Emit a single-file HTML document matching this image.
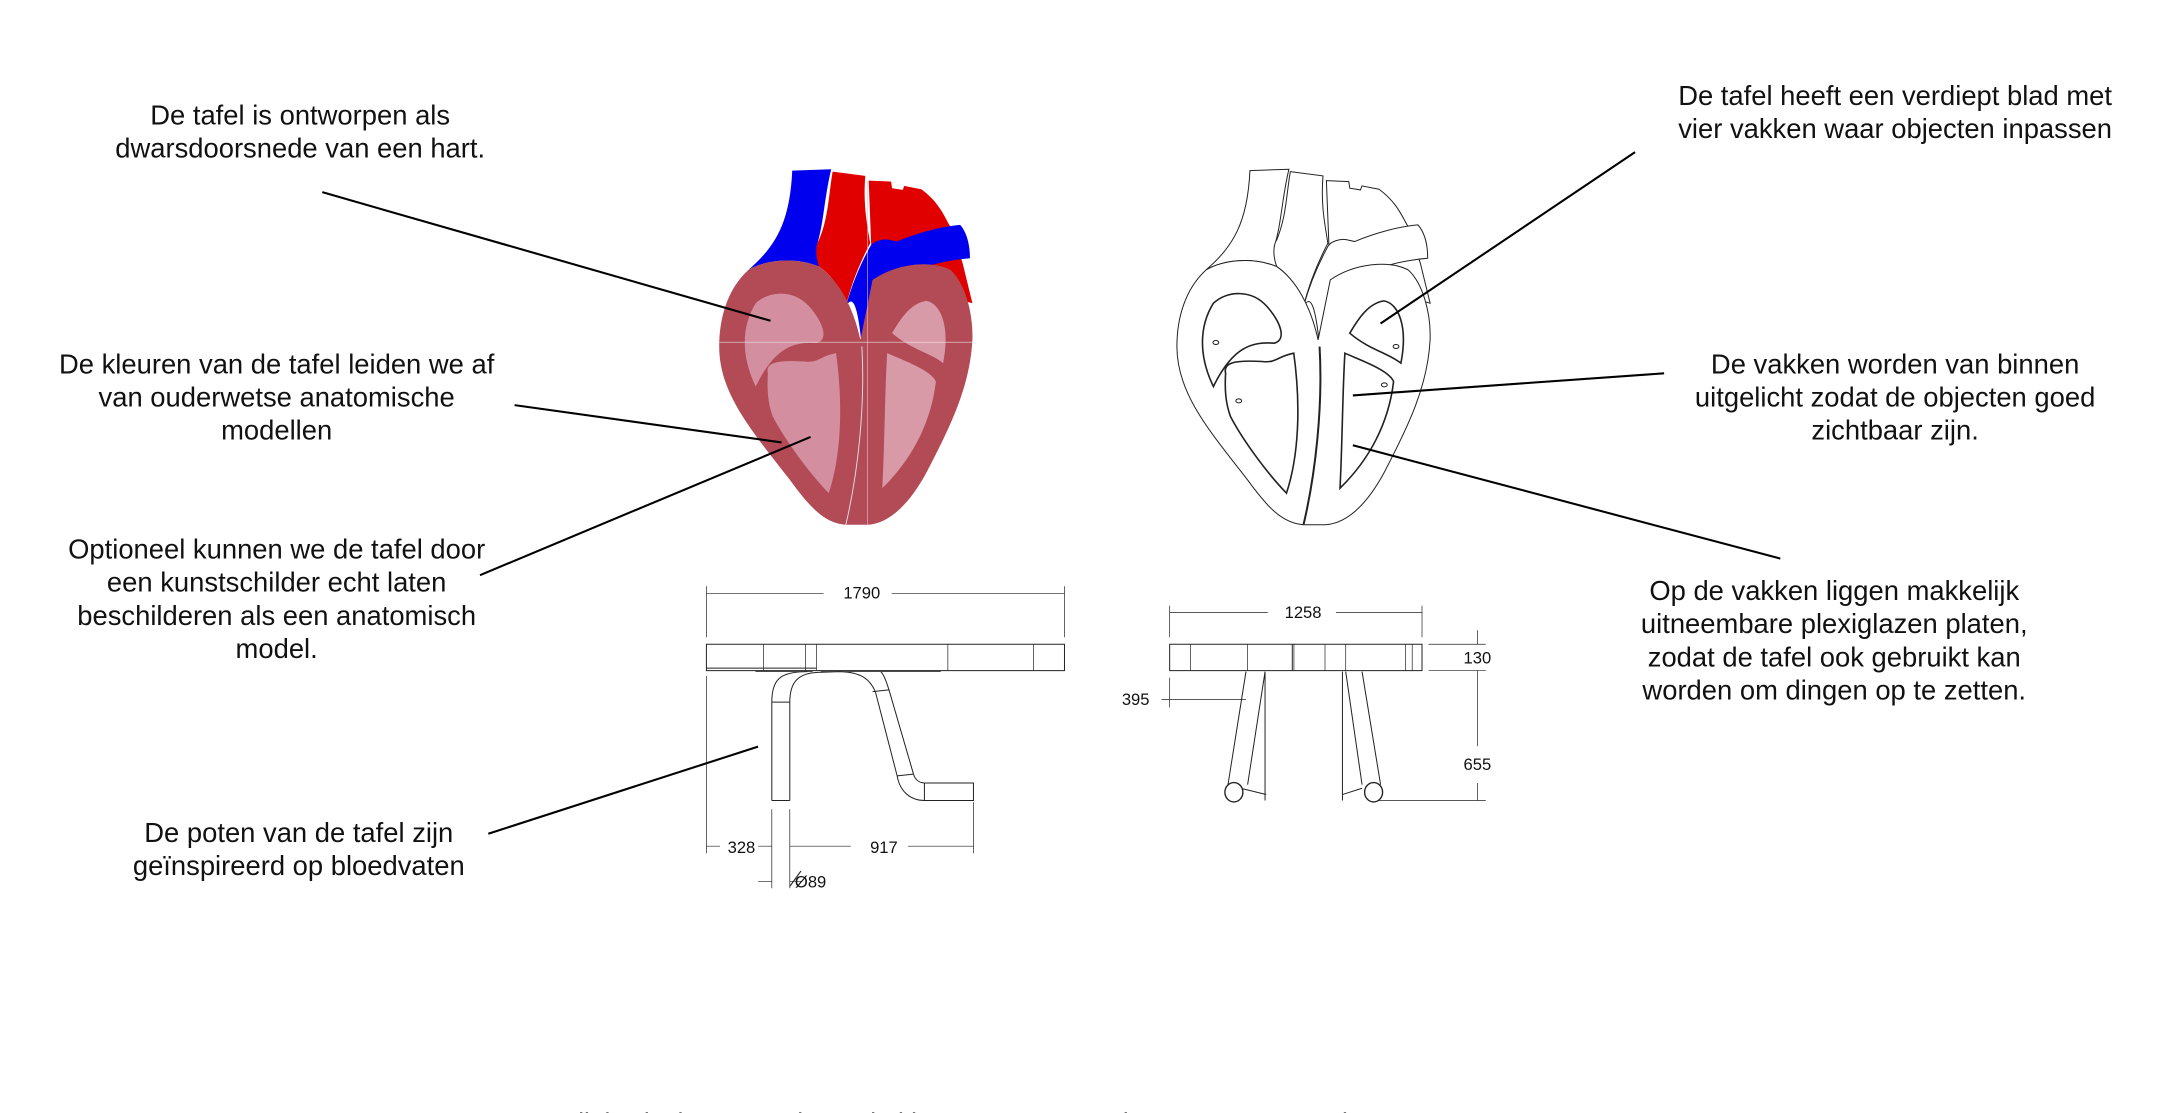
<!DOCTYPE html>
<html><head><meta charset="utf-8"><style>
html,body{margin:0;padding:0;background:#fff;width:2169px;height:1113px;overflow:hidden}
svg{display:block}
.t{font-family:"Liberation Sans",sans-serif;font-size:19.8px;fill:#111;text-anchor:middle}
.d{font-family:"Liberation Sans",sans-serif;font-size:12px;fill:#111;text-anchor:middle}
.ln{stroke:#000;stroke-width:1.5;fill:none}
.dr{fill:none;stroke:#222;stroke-width:1;vector-effect:non-scaling-stroke}
.dt{fill:none;stroke:#222;stroke-width:0.7;vector-effect:non-scaling-stroke}
.ho path,.ho circle{vector-effect:non-scaling-stroke}
</style></head><body>
<svg width="2169" height="1113" viewBox="0 0 1568 805" preserveAspectRatio="none">
<rect width="1568" height="805" fill="#fff"/>
<text class="t" x="217" y="90">De tafel is ontworpen als</text>
<text class="t" x="217" y="114">dwarsdoorsnede van een hart.</text>
<text class="t" x="200" y="270">De kleuren van de tafel leiden we af</text>
<text class="t" x="200" y="294">van ouderwetse anatomische</text>
<text class="t" x="200" y="318">modellen</text>
<text class="t" x="200" y="404">Optioneel kunnen we de tafel door</text>
<text class="t" x="200" y="428">een kunstschilder echt laten</text>
<text class="t" x="200" y="452">beschilderen als een anatomisch</text>
<text class="t" x="200" y="476">model.</text>
<text class="t" x="216" y="609">De poten van de tafel zijn</text>
<text class="t" x="216" y="633">geïnspireerd op bloedvaten</text>
<text class="t" x="1370" y="76">De tafel heeft een verdiept blad met</text>
<text class="t" x="1370" y="100">vier vakken waar objecten inpassen</text>
<text class="t" x="1370" y="270">De vakken worden van binnen</text>
<text class="t" x="1370" y="294">uitgelicht zodat de objecten goed</text>
<text class="t" x="1370" y="318">zichtbaar zijn.</text>
<text class="t" x="1326" y="434">Op de vakken liggen makkelijk</text>
<text class="t" x="1326" y="458">uitneembare plexiglazen platen,</text>
<text class="t" x="1326" y="482">zodat de tafel ook gebruikt kan</text>
<text class="t" x="1326" y="506">worden om dingen op te zetten.</text>
<text x="380" y="818" style="font-family:'Liberation Sans',sans-serif;font-size:19px;fill:#777">NB dit is slechts een schets, de kleuren en vormen kunnen nog veranderen</text>

<g transform="translate(490,101.2) scale(0.352,0.241)">
 <path fill="#e00000" d="M392 122 L438 125 L440 145 L462 150 L465 138 L500 148 C540 190 550 240 560 260 L585 370 L605 490 L580 480 C560 420 540 390 520 380 L400 420 Z"/>
 <path fill="#0000ee" d="M235 92 L315 88 C300 180 300 250 285 320 L290 380 C240 350 180 360 145 390 C200 320 230 250 235 92 Z"/>
 <path fill="#e00000" d="M318 95 L385 108 C380 200 390 260 395 310 C370 380 355 440 345 500 C330 430 310 400 290 380 C280 340 285 310 290 300 C310 230 310 160 318 95 Z"/>
 <path fill="#0000ee" d="M395 320 C400 305 420 295 435 300 L450 305 C490 280 540 260 580 255 C595 280 600 320 600 355 C560 360 530 370 500 385 C450 410 400 450 378 620 C370 500 360 460 345 500 C360 420 380 360 395 320 Z"/>
 <path fill="#b24b55" d="M145 390 C100 450 85 540 85 620 C85 760 150 870 230 1020 C270 1100 300 1150 345 1155 L390 1155 C440 1150 480 1080 510 1000 C560 860 600 740 605 600 C607 520 590 430 560 390 C520 360 450 370 400 420 L375 600 C360 500 330 420 290 380 C240 350 180 360 145 390 Z"/>
 <path fill="#d38f9f" d="M160 740 C130 650 130 560 160 490 C190 450 240 450 270 500 C300 550 310 600 285 610 C240 605 200 620 160 740 Z"/>
 <path fill="#d38f9f" d="M185 700 C180 670 200 660 260 665 C290 670 290 650 325 640 C340 800 335 950 310 1060 C270 1000 220 900 195 830 C185 790 183 750 185 700 Z"/>
 <path fill="#d99aa8" d="M440 580 C460 530 480 490 510 483 C540 490 560 560 545 670 C520 640 480 630 440 580 Z"/>
 <path fill="#d99aa8" d="M430 640 C460 660 520 690 530 725 C520 850 480 960 420 1045 C425 900 425 760 430 640 Z"/>
 <path d="M378 620 C385 800 370 1000 345 1155" stroke="#ddd" stroke-width="2" fill="none"/>
 <line x1="85" y1="607" x2="605" y2="607" stroke="#f2dde2" stroke-width="2"/>
 <line x1="390" y1="120" x2="390" y2="1155" stroke="#f0c0c8" stroke-width="1.2"/>
</g>
<g class="ho" transform="translate(490,101.2) scale(0.352,0.241) translate(940,0)" fill="#fff" stroke="#222" stroke-width="1">
 <path d="M392 122 L438 125 L440 145 L462 150 L465 138 L500 148 C540 190 550 240 560 260 L585 370 L605 490 L580 480 C560 420 540 390 520 380 L400 420 Z"/>
 <path d="M235 92 L315 88 C300 180 300 250 285 320 L290 380 C240 350 180 360 145 390 C200 320 230 250 235 92 Z"/>
 <path d="M318 95 L385 108 C380 200 390 260 395 310 C370 380 355 440 345 500 C330 430 310 400 290 380 C280 340 285 310 290 300 C310 230 310 160 318 95 Z"/>
 <path d="M395 320 C400 305 420 295 435 300 L450 305 C490 280 540 260 580 255 C595 280 600 320 600 355 C560 360 530 370 500 385 C450 410 400 450 378 620 C370 500 360 460 345 500 C360 420 380 360 395 320 Z"/>
 <path d="M145 390 C100 450 85 540 85 620 C85 760 150 870 230 1020 C270 1100 300 1150 345 1155 L390 1155 C440 1150 480 1080 510 1000 C560 860 600 740 605 600 C607 520 590 430 560 390 C520 360 450 370 400 420 L375 600 C360 500 330 420 290 380 C240 350 180 360 145 390 Z"/>
 <path stroke-width="1.6" d="M160 740 C130 650 130 560 160 490 C190 450 240 450 270 500 C300 550 310 600 285 610 C240 605 200 620 160 740 Z"/>
 <path stroke-width="1.6" d="M185 700 C180 670 200 660 260 665 C290 670 290 650 325 640 C340 800 335 950 310 1060 C270 1000 220 900 195 830 C185 790 183 750 185 700 Z"/>
 <path stroke-width="1.6" d="M440 580 C460 530 480 490 510 483 C540 490 560 560 545 670 C520 640 480 630 440 580 Z"/>
 <path stroke-width="1.6" d="M430 640 C460 660 520 690 530 725 C520 850 480 960 420 1045 C425 900 425 760 430 640 Z"/>
 <path d="M378 620 C385 800 370 1000 345 1155" stroke-width="2" fill="none"/>
 <circle cx="165" cy="608" r="6"/><circle cx="212" cy="783" r="6"/><circle cx="535" cy="620" r="6"/><circle cx="511" cy="735" r="6"/>
</g>

<g class="ln">
<line x1="233" y1="139" x2="557" y2="232"/>
<line x1="372" y1="293" x2="565" y2="320"/>
<line x1="347" y1="416" x2="586" y2="316"/>
<line x1="353" y1="603" x2="548" y2="540"/>
<line x1="1182" y1="110" x2="998" y2="234"/>
<line x1="1203" y1="270" x2="978" y2="286"/>
<line x1="1287" y1="404" x2="978" y2="322"/>
</g>

<g transform="translate(489,405) scale(0.394,0.254)">
 <line class="dt" x1="55" y1="75" x2="55" y2="220"/><line class="dt" x1="712" y1="75" x2="712" y2="220"/>
 <line class="dt" x1="55" y1="95" x2="270" y2="95"/><line class="dt" x1="395" y1="95" x2="712" y2="95"/>
 <rect class="dr" x="55" y="240" width="657" height="75"/>
 <path class="dt" d="M160 240V315M237 240V315M257 240V315M498 240V315M655 240V315M145 318H250M265 318H485"/>
 <path class="dr" d="M55 308H257"/>
 <path class="dr" d="M175 685 L175 405 C175 340 190 318 240 318 M208 685 L208 405 C208 345 225 322 260 320 M175 405H208 M175 685H208"/>
 <path class="dr" d="M260 320 L300 318 C340 320 355 340 365 375 L405 615 C410 660 430 685 455 685 L545 685 L545 635 L455 635 C445 635 438 625 435 610 L390 370 C385 345 380 325 375 318 M455 635V685 M360 375L390 370 M405 615L435 610"/>
 <path class="dt" d="M55 330V835M175 710V935M208 710V935M545 690V835M55 815H80M150 815H175M208 815H320M425 815H545M150 915H175M208 915H230"/>
 <path class="dt" d="M905 130V220M1368 130V220M905 150H1085M1210 150H1368"/>
 <rect class="dr" x="905" y="240" width="463" height="75"/>
 <path class="dt" d="M943 240V315M1048 240V315M1133 240V315M1190 240V315M1228 240V315M1338 240V315M1350 240V315"/>
 <path class="dr" d="M1130 240V315"/>
 <path class="dr" d="M1045 318L1012 640M1080 318L1048 640M1080 318V685M1228 318L1258 640M1258 318L1292 640M1222 318V685M1035 650L1082 668M1258 650L1222 668"/>
 <path class="dt" d="M1380 240H1485M1380 315H1485M1270 685H1485M1470 200V240M1470 315V530M1470 635V685M890 397H1045M905 335V420"/>
</g>
<ellipse cx="892" cy="573" rx="6.5" ry="7" fill="#fff" stroke="#222" stroke-width="1"/>
<ellipse cx="993" cy="573" rx="6.5" ry="7" fill="#fff" stroke="#222" stroke-width="1"/>
<line x1="571" y1="641" x2="579" y2="630" stroke="#222" stroke-width="0.8"/>
<text class="d" x="623" y="433">1790</text>
<text class="d" x="942" y="447">1258</text>
<text class="d" x="1068" y="480">130</text>
<text class="d" x="1068" y="557">655</text>
<text class="d" x="821" y="510">395</text>
<text class="d" x="536" y="617">328</text>
<text class="d" x="639" y="617">917</text>
<text class="d" x="586" y="642">Ø89</text>
</svg>
</body></html>
